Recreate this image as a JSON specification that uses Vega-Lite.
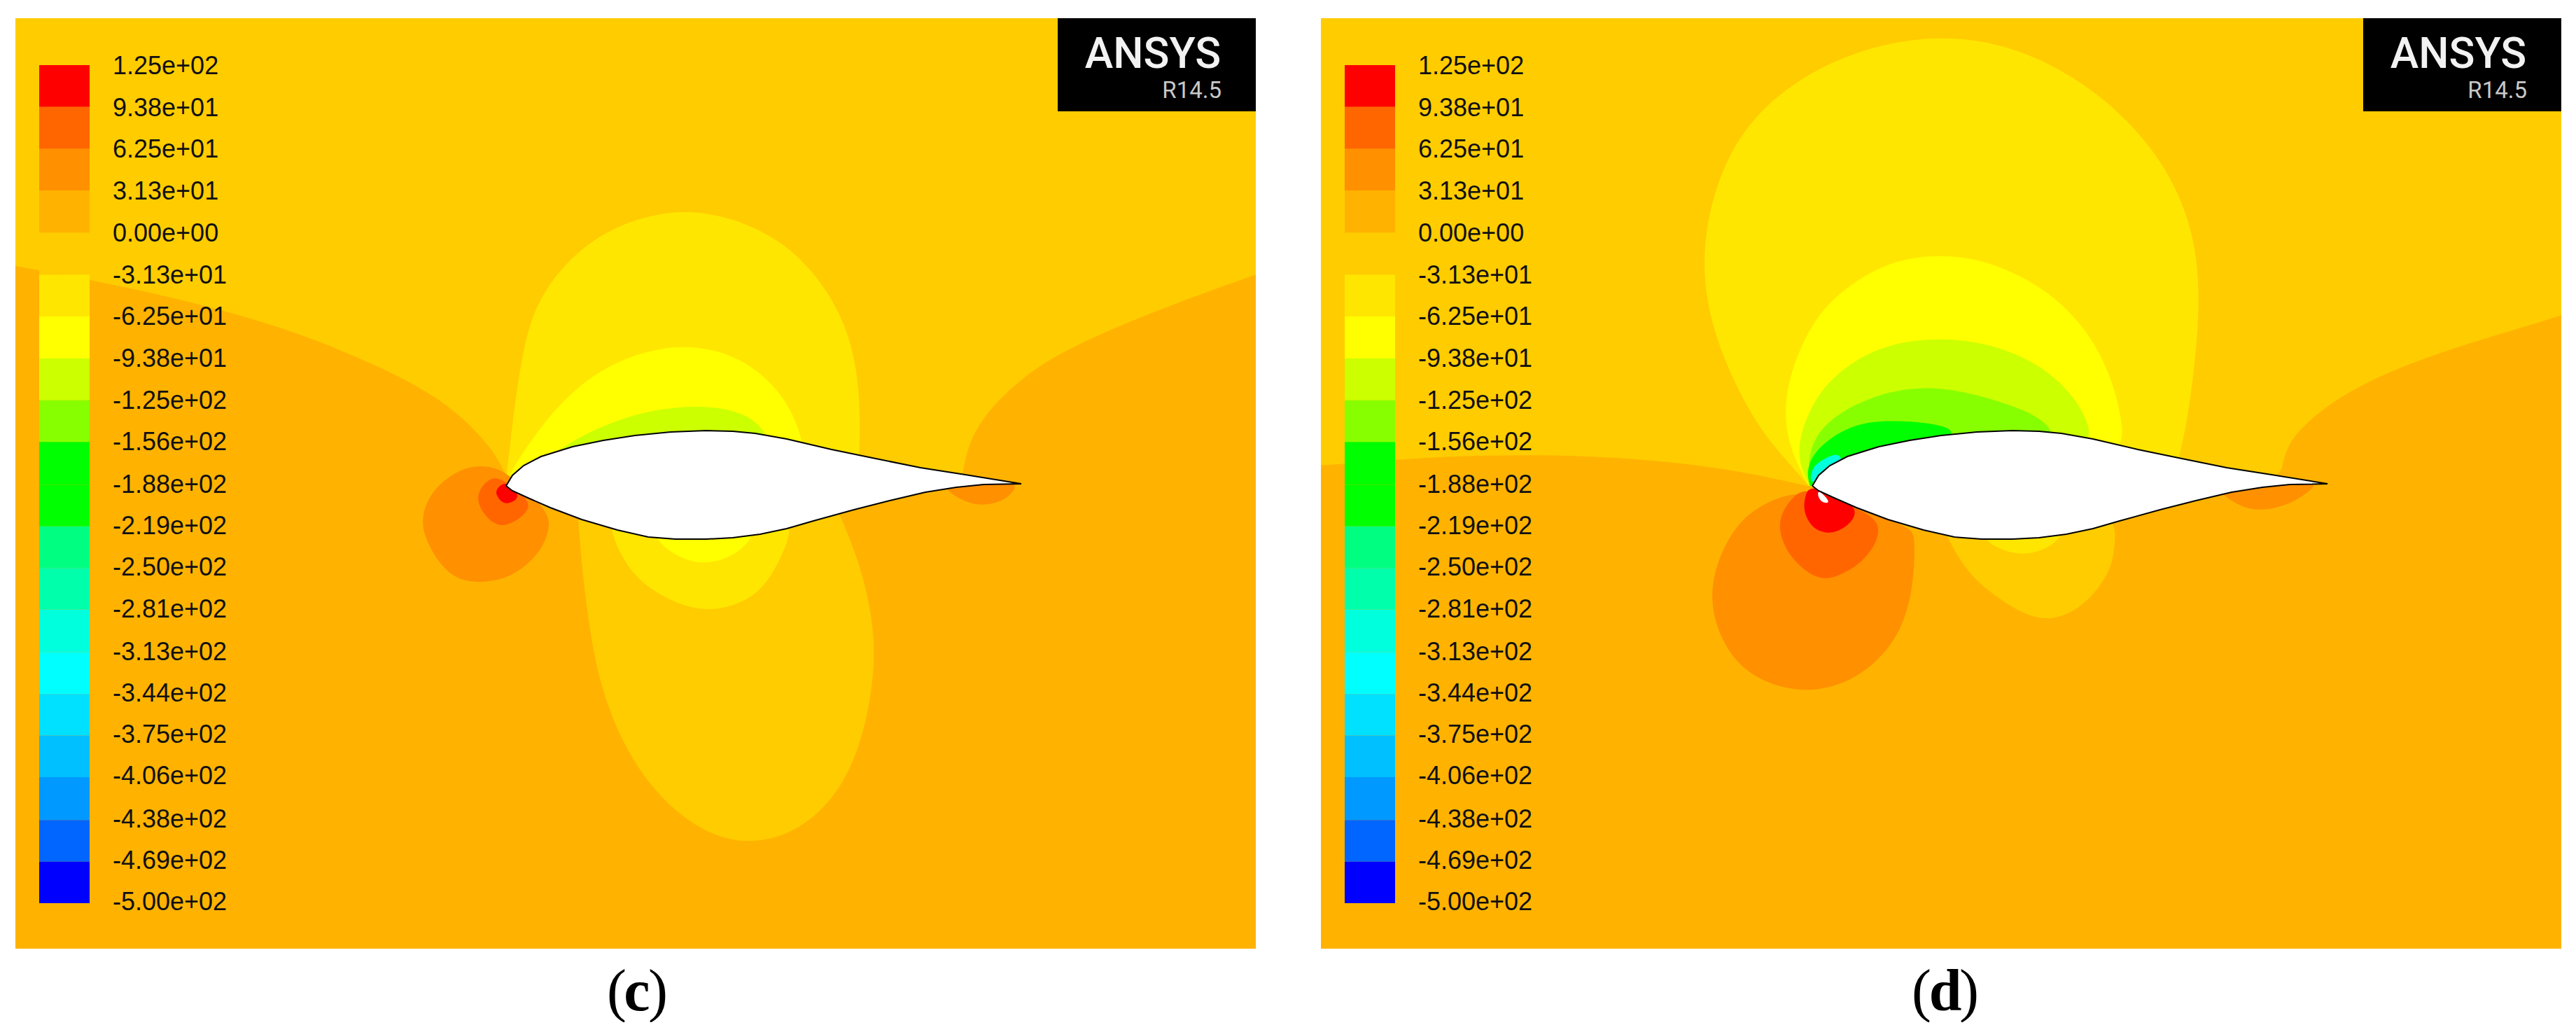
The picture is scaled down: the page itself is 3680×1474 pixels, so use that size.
{"$schema":"https://vega.github.io/schema/vega-lite/v6.json","padding":{"left":22,"top":26,"right":0,"bottom":0},"spacing":93,"bounds":"flush","background":"white","config":{"view":{"fill":"#FFCC00","stroke":null}},
"datasets":{
"airfoil":[{"x":723,"y":694},{"x":732,"y":679},{"x":748,"y":665},{"x":773,"y":652},{"x":818,"y":638},{"x":862,"y":629},{"x":907,"y":622},{"x":958,"y":617},{"x":1009,"y":615},{"x":1047,"y":616},{"x":1079,"y":619},{"x":1124,"y":627},{"x":1188,"y":642},{"x":1251,"y":655},{"x":1315,"y":668},{"x":1379,"y":678},{"x":1459,"y":691},{"x":1405,"y":692},{"x":1366,"y":696},{"x":1322,"y":703},{"x":1271,"y":715},{"x":1220,"y":728},{"x":1162,"y":744},{"x":1124,"y":755},{"x":1086,"y":763},{"x":1047,"y":768},{"x":1009,"y":770},{"x":965,"y":770},{"x":926,"y":767},{"x":882,"y":757},{"x":831,"y":742},{"x":786,"y":725},{"x":754,"y":711},{"x":732,"y":701},{"x":723,"y":694}],
"bands":[{"band":1,"hi":125,"lo":93.8},{"band":2,"hi":93.8,"lo":62.5},{"band":3,"hi":62.5,"lo":31.3},{"band":4,"hi":31.3,"lo":0},{"band":5,"hi":0,"lo":-31.3},{"band":6,"hi":-31.3,"lo":-62.5},{"band":7,"hi":-62.5,"lo":-93.8},{"band":8,"hi":-93.8,"lo":-125},{"band":9,"hi":-125,"lo":-156},{"band":10,"hi":-156,"lo":-188},{"band":11,"hi":-188,"lo":-219},{"band":12,"hi":-219,"lo":-250},{"band":13,"hi":-250,"lo":-281},{"band":14,"hi":-281,"lo":-313},{"band":15,"hi":-313,"lo":-344},{"band":16,"hi":-344,"lo":-375},{"band":17,"hi":-375,"lo":-406},{"band":18,"hi":-406,"lo":-438},{"band":19,"hi":-438,"lo":-469},{"band":20,"hi":-469,"lo":-500}],
"ticks":[{"v":125,"label":"1.25e+02"},{"v":93.8,"label":"9.38e+01"},{"v":62.5,"label":"6.25e+01"},{"v":31.3,"label":"3.13e+01"},{"v":0,"label":"0.00e+00"},{"v":-31.3,"label":"-3.13e+01"},{"v":-62.5,"label":"-6.25e+01"},{"v":-93.8,"label":"-9.38e+01"},{"v":-125,"label":"-1.25e+02"},{"v":-156,"label":"-1.56e+02"},{"v":-188,"label":"-1.88e+02"},{"v":-219,"label":"-2.19e+02"},{"v":-250,"label":"-2.50e+02"},{"v":-281,"label":"-2.81e+02"},{"v":-313,"label":"-3.13e+02"},{"v":-344,"label":"-3.44e+02"},{"v":-375,"label":"-3.75e+02"},{"v":-406,"label":"-4.06e+02"},{"v":-438,"label":"-4.38e+02"},{"v":-469,"label":"-4.69e+02"},{"v":-500,"label":"-5.00e+02"}],
"shapes_c":[
{"shape":"A","band":4,"x":-200,"y":340},{"shape":"A","band":4,"x":22,"y":380},{"shape":"A","band":4,"x":133,"y":400},{"shape":"A","band":4,"x":270,"y":430},{"shape":"A","band":4,"x":400,"y":466},{"shape":"A","band":4,"x":500,"y":505},{"shape":"A","band":4,"x":580,"y":542},{"shape":"A","band":4,"x":640,"y":578},{"shape":"A","band":4,"x":685,"y":620},{"shape":"A","band":4,"x":712,"y":655},{"shape":"A","band":4,"x":724,"y":682},{"shape":"A","band":4,"x":724,"y":682},{"shape":"A","band":4,"x":900,"y":700},{"shape":"A","band":4,"x":1200,"y":700},{"shape":"A","band":4,"x":1373,"y":692},{"shape":"A","band":4,"x":1376,"y":671},{"shape":"A","band":4,"x":1383,"y":636},{"shape":"A","band":4,"x":1405,"y":594},{"shape":"A","band":4,"x":1450,"y":548},{"shape":"A","band":4,"x":1510,"y":504},{"shape":"A","band":4,"x":1643,"y":446},{"shape":"A","band":4,"x":1794,"y":392},{"shape":"A","band":4,"x":2000,"y":320},{"shape":"A","band":4,"x":2000,"y":1500},{"shape":"A","band":4,"x":2000,"y":1500},{"shape":"A","band":4,"x":2000,"y":1500},{"shape":"A","band":4,"x":-200,"y":1500},{"shape":"A","band":4,"x":-200,"y":1500},{"shape":"A","band":4,"x":-200,"y":1500},
{"shape":"B","band":5,"x":1000,"y":700},{"shape":"B","band":5,"x":824,"y":710},{"shape":"B","band":5,"x":826,"y":745},{"shape":"B","band":5,"x":836,"y":861},{"shape":"B","band":5,"x":858,"y":995},{"shape":"B","band":5,"x":915,"y":1113},{"shape":"B","band":5,"x":994,"y":1186},{"shape":"B","band":5,"x":1071,"y":1209},{"shape":"B","band":5,"x":1152,"y":1184},{"shape":"B","band":5,"x":1220,"y":1106},{"shape":"B","band":5,"x":1251,"y":972},{"shape":"B","band":5,"x":1248,"y":883},{"shape":"B","band":5,"x":1225,"y":794},{"shape":"B","band":5,"x":1197,"y":730},{"shape":"B","band":5,"x":1185,"y":700},
{"shape":"C","band":6,"x":1000,"y":720},{"shape":"C","band":6,"x":868,"y":730},{"shape":"C","band":6,"x":875,"y":765},{"shape":"C","band":6,"x":888,"y":795},{"shape":"C","band":6,"x":912,"y":830},{"shape":"C","band":6,"x":960,"y":860},{"shape":"C","band":6,"x":1011,"y":875},{"shape":"C","band":6,"x":1067,"y":860},{"shape":"C","band":6,"x":1098,"y":830},{"shape":"C","band":6,"x":1116,"y":795},{"shape":"C","band":6,"x":1128,"y":767},{"shape":"C","band":6,"x":1130,"y":730},
{"shape":"D","band":7,"x":1000,"y":730},{"shape":"D","band":7,"x":930,"y":745},{"shape":"D","band":7,"x":937,"y":769},{"shape":"D","band":7,"x":953,"y":785},{"shape":"D","band":7,"x":975,"y":798},{"shape":"D","band":7,"x":1005,"y":806},{"shape":"D","band":7,"x":1039,"y":798},{"shape":"D","band":7,"x":1060,"y":784},{"shape":"D","band":7,"x":1075,"y":767},{"shape":"D","band":7,"x":1082,"y":745},
{"shape":"E","band":6,"x":723,"y":685},{"shape":"E","band":6,"x":723,"y":685},{"shape":"E","band":6,"x":729,"y":633},{"shape":"E","band":6,"x":738,"y":556},{"shape":"E","band":6,"x":754,"y":464},{"shape":"E","band":6,"x":780,"y":411},{"shape":"E","band":6,"x":818,"y":365},{"shape":"E","band":6,"x":869,"y":328},{"shape":"E","band":6,"x":930,"y":306},{"shape":"E","band":6,"x":990,"y":300},{"shape":"E","band":6,"x":1060,"y":315},{"shape":"E","band":6,"x":1124,"y":349},{"shape":"E","band":6,"x":1175,"y":403},{"shape":"E","band":6,"x":1213,"y":472},{"shape":"E","band":6,"x":1229,"y":556},{"shape":"E","band":6,"x":1228,"y":648},{"shape":"E","band":6,"x":1225,"y":680},{"shape":"E","band":6,"x":1100,"y":695},{"shape":"E","band":6,"x":800,"y":690},
{"shape":"F","band":7,"x":725,"y":685},{"shape":"F","band":7,"x":725,"y":685},{"shape":"F","band":7,"x":735,"y":665},{"shape":"F","band":7,"x":767,"y":617},{"shape":"F","band":7,"x":805,"y":571},{"shape":"F","band":7,"x":850,"y":533},{"shape":"F","band":7,"x":907,"y":505},{"shape":"F","band":7,"x":977,"y":491},{"shape":"F","band":7,"x":1047,"y":505},{"shape":"F","band":7,"x":1098,"y":541},{"shape":"F","band":7,"x":1130,"y":583},{"shape":"F","band":7,"x":1148,"y":633},{"shape":"F","band":7,"x":1150,"y":670},{"shape":"F","band":7,"x":1050,"y":690},{"shape":"F","band":7,"x":800,"y":690},
{"shape":"G","band":8,"x":770,"y":675},{"shape":"G","band":8,"x":785,"y":655},{"shape":"G","band":8,"x":799,"y":642},{"shape":"G","band":8,"x":837,"y":619},{"shape":"G","band":8,"x":882,"y":600},{"shape":"G","band":8,"x":933,"y":585},{"shape":"G","band":8,"x":996,"y":579},{"shape":"G","band":8,"x":1047,"y":585},{"shape":"G","band":8,"x":1079,"y":600},{"shape":"G","band":8,"x":1098,"y":625},{"shape":"G","band":8,"x":1105,"y":650},{"shape":"G","band":8,"x":1000,"y":680},
{"shape":"H","band":3,"x":722,"y":675},{"shape":"H","band":3,"x":755,"y":700},{"shape":"H","band":3,"x":780,"y":730},{"shape":"H","band":3,"x":787,"y":750},{"shape":"H","band":3,"x":775,"y":784},{"shape":"H","band":3,"x":750,"y":810},{"shape":"H","band":3,"x":722,"y":827},{"shape":"H","band":3,"x":683,"y":833},{"shape":"H","band":3,"x":650,"y":827},{"shape":"H","band":3,"x":625,"y":802},{"shape":"H","band":3,"x":608,"y":770},{"shape":"H","band":3,"x":602,"y":745},{"shape":"H","band":3,"x":609,"y":715},{"shape":"H","band":3,"x":630,"y":688},{"shape":"H","band":3,"x":665,"y":666},{"shape":"H","band":3,"x":700,"y":665},
{"shape":"I","band":2,"x":711,"y":681},{"shape":"I","band":2,"x":735,"y":696},{"shape":"I","band":2,"x":758,"y":718},{"shape":"I","band":2,"x":752,"y":732},{"shape":"I","band":2,"x":738,"y":744},{"shape":"I","band":2,"x":717,"y":753},{"shape":"I","band":2,"x":700,"y":744},{"shape":"I","band":2,"x":688,"y":730},{"shape":"I","band":2,"x":681,"y":712},{"shape":"I","band":2,"x":687,"y":696},{"shape":"I","band":2,"x":698,"y":685},
{"shape":"J","band":1,"x":722,"y":689},{"shape":"J","band":1,"x":733,"y":696},{"shape":"J","band":1,"x":742,"y":709},{"shape":"J","band":1,"x":733,"y":717},{"shape":"J","band":1,"x":722,"y":720},{"shape":"J","band":1,"x":713,"y":714},{"shape":"J","band":1,"x":707,"y":703},{"shape":"J","band":1,"x":713,"y":694},
{"shape":"K","band":3,"x":1345,"y":690},{"shape":"K","band":3,"x":1356,"y":703},{"shape":"K","band":3,"x":1378,"y":717},{"shape":"K","band":3,"x":1406,"y":723},{"shape":"K","band":3,"x":1434,"y":715},{"shape":"K","band":3,"x":1447,"y":703},{"shape":"K","band":3,"x":1455,"y":688},{"shape":"K","band":3,"x":1400,"y":680}
],
"shapes_d":[
{"shape":"A","band":4,"x":-200,"y":668},{"shape":"A","band":4,"x":21,"y":667},{"shape":"A","band":4,"x":134,"y":655},{"shape":"A","band":4,"x":260,"y":650},{"shape":"A","band":4,"x":394,"y":650},{"shape":"A","band":4,"x":529,"y":660},{"shape":"A","band":4,"x":631,"y":675},{"shape":"A","band":4,"x":720,"y":695},{"shape":"A","band":4,"x":720,"y":695},{"shape":"A","band":4,"x":900,"y":700},{"shape":"A","band":4,"x":1200,"y":700},{"shape":"A","band":4,"x":1390,"y":690},{"shape":"A","band":4,"x":1394,"y":665},{"shape":"A","band":4,"x":1405,"y":624},{"shape":"A","band":4,"x":1467,"y":571},{"shape":"A","band":4,"x":1546,"y":530},{"shape":"A","band":4,"x":1659,"y":490},{"shape":"A","band":4,"x":1793,"y":452},{"shape":"A","band":4,"x":2000,"y":380},{"shape":"A","band":4,"x":2000,"y":1500},{"shape":"A","band":4,"x":2000,"y":1500},{"shape":"A","band":4,"x":2000,"y":1500},{"shape":"A","band":4,"x":-200,"y":1500},{"shape":"A","band":4,"x":-200,"y":1500},{"shape":"A","band":4,"x":-200,"y":1500},
{"shape":"B","band":5,"x":1000,"y":700},{"shape":"B","band":5,"x":908,"y":740},{"shape":"B","band":5,"x":914,"y":765},{"shape":"B","band":5,"x":936,"y":803},{"shape":"B","band":5,"x":955,"y":827},{"shape":"B","band":5,"x":981,"y":849},{"shape":"B","band":5,"x":1020,"y":875},{"shape":"B","band":5,"x":1058,"y":887},{"shape":"B","band":5,"x":1095,"y":875},{"shape":"B","band":5,"x":1123,"y":852},{"shape":"B","band":5,"x":1142,"y":825},{"shape":"B","band":5,"x":1152,"y":803},{"shape":"B","band":5,"x":1156,"y":770},{"shape":"B","band":5,"x":1156,"y":730},
{"shape":"C","band":6,"x":1020,"y":720},{"shape":"C","band":6,"x":963,"y":750},{"shape":"C","band":6,"x":968,"y":772},{"shape":"C","band":6,"x":998,"y":788},{"shape":"C","band":6,"x":1029,"y":793},{"shape":"C","band":6,"x":1060,"y":783},{"shape":"C","band":6,"x":1079,"y":767},{"shape":"C","band":6,"x":1085,"y":745},
{"shape":"E","band":6,"x":719,"y":695},{"shape":"E","band":6,"x":719,"y":695},{"shape":"E","band":6,"x":688,"y":660},{"shape":"E","band":6,"x":642,"y":606},{"shape":"E","band":6,"x":597,"y":517},{"shape":"E","band":6,"x":569,"y":428},{"shape":"E","band":6,"x":567,"y":338},{"shape":"E","band":6,"x":592,"y":240},{"shape":"E","band":6,"x":642,"y":160},{"shape":"E","band":6,"x":722,"y":100},{"shape":"E","band":6,"x":812,"y":64},{"shape":"E","band":6,"x":908,"y":50},{"shape":"E","band":6,"x":1004,"y":64},{"shape":"E","band":6,"x":1094,"y":106},{"shape":"E","band":6,"x":1174,"y":169},{"shape":"E","band":6,"x":1236,"y":249},{"shape":"E","band":6,"x":1270,"y":338},{"shape":"E","band":6,"x":1277,"y":428},{"shape":"E","band":6,"x":1270,"y":517},{"shape":"E","band":6,"x":1258,"y":606},{"shape":"E","band":6,"x":1247,"y":651},{"shape":"E","band":6,"x":1240,"y":685},{"shape":"E","band":6,"x":1100,"y":695},{"shape":"E","band":6,"x":800,"y":695},
{"shape":"F","band":7,"x":719,"y":695},{"shape":"F","band":7,"x":719,"y":695},{"shape":"F","band":7,"x":699,"y":660},{"shape":"F","band":7,"x":682,"y":606},{"shape":"F","band":7,"x":688,"y":539},{"shape":"F","band":7,"x":722,"y":459},{"shape":"F","band":7,"x":767,"y":412},{"shape":"F","band":7,"x":834,"y":372},{"shape":"F","band":7,"x":908,"y":362},{"shape":"F","band":7,"x":981,"y":374},{"shape":"F","band":7,"x":1060,"y":414},{"shape":"F","band":7,"x":1117,"y":472},{"shape":"F","band":7,"x":1151,"y":539},{"shape":"F","band":7,"x":1167,"y":606},{"shape":"F","band":7,"x":1167,"y":650},{"shape":"F","band":7,"x":1050,"y":690},{"shape":"F","band":7,"x":800,"y":695},
{"shape":"G","band":8,"x":720,"y":695},{"shape":"G","band":8,"x":720,"y":695},{"shape":"G","band":8,"x":702,"y":660},{"shape":"G","band":8,"x":706,"y":615},{"shape":"G","band":8,"x":733,"y":557},{"shape":"G","band":8,"x":778,"y":517},{"shape":"G","band":8,"x":834,"y":490},{"shape":"G","band":8,"x":908,"y":482},{"shape":"G","band":8,"x":981,"y":491},{"shape":"G","band":8,"x":1049,"y":521},{"shape":"G","band":8,"x":1094,"y":562},{"shape":"G","band":8,"x":1117,"y":602},{"shape":"G","band":8,"x":1125,"y":640},{"shape":"G","band":8,"x":1000,"y":680},{"shape":"G","band":8,"x":800,"y":690},
{"shape":"H","band":9,"x":720,"y":695},{"shape":"H","band":9,"x":720,"y":695},{"shape":"H","band":9,"x":716,"y":653},{"shape":"H","band":9,"x":732,"y":613},{"shape":"H","band":9,"x":776,"y":580},{"shape":"H","band":9,"x":834,"y":558},{"shape":"H","band":9,"x":891,"y":552},{"shape":"H","band":9,"x":949,"y":561},{"shape":"H","band":9,"x":1012,"y":580},{"shape":"H","band":9,"x":1057,"y":600},{"shape":"H","band":9,"x":1080,"y":640},{"shape":"H","band":9,"x":950,"y":670},{"shape":"H","band":9,"x":800,"y":680},
{"shape":"I","band":10,"x":720,"y":695},{"shape":"I","band":10,"x":720,"y":695},{"shape":"I","band":10,"x":715,"y":677},{"shape":"I","band":10,"x":721,"y":653},{"shape":"I","band":10,"x":744,"y":628},{"shape":"I","band":10,"x":783,"y":606},{"shape":"I","band":10,"x":827,"y":600},{"shape":"I","band":10,"x":891,"y":603},{"shape":"I","band":10,"x":945,"y":618},{"shape":"I","band":10,"x":850,"y":660},{"shape":"I","band":10,"x":760,"y":680},
{"shape":"J","band":14,"x":721,"y":692},{"shape":"J","band":14,"x":720,"y":680},{"shape":"J","band":14,"x":725,"y":665},{"shape":"J","band":14,"x":740,"y":655},{"shape":"J","band":14,"x":760,"y":646},{"shape":"J","band":14,"x":768,"y":660},{"shape":"J","band":14,"x":750,"y":680},
{"shape":"K","band":3,"x":722,"y":696},{"shape":"K","band":3,"x":812,"y":736},{"shape":"K","band":3,"x":864,"y":754},{"shape":"K","band":3,"x":870,"y":767},{"shape":"K","band":3,"x":868,"y":839},{"shape":"K","band":3,"x":848,"y":912},{"shape":"K","band":3,"x":789,"y":972},{"shape":"K","band":3,"x":710,"y":993},{"shape":"K","band":3,"x":631,"y":967},{"shape":"K","band":3,"x":590,"y":914},{"shape":"K","band":3,"x":572,"y":839},{"shape":"K","band":3,"x":607,"y":754},{"shape":"K","band":3,"x":654,"y":716},
{"shape":"L","band":2,"x":714,"y":696},{"shape":"L","band":2,"x":760,"y":716},{"shape":"L","band":2,"x":822,"y":740},{"shape":"L","band":2,"x":816,"y":776},{"shape":"L","band":2,"x":790,"y":807},{"shape":"L","band":2,"x":765,"y":820},{"shape":"L","band":2,"x":744,"y":828},{"shape":"L","band":2,"x":722,"y":822},{"shape":"L","band":2,"x":705,"y":808},{"shape":"L","band":2,"x":687,"y":789},{"shape":"L","band":2,"x":674,"y":756},{"shape":"L","band":2,"x":680,"y":730},{"shape":"L","band":2,"x":695,"y":710},
{"shape":"M","band":1,"x":720,"y":695},{"shape":"M","band":1,"x":745,"y":701},{"shape":"M","band":1,"x":762,"y":708},{"shape":"M","band":1,"x":789,"y":727},{"shape":"M","band":1,"x":778,"y":748},{"shape":"M","band":1,"x":760,"y":759},{"shape":"M","band":1,"x":744,"y":762},{"shape":"M","band":1,"x":728,"y":757},{"shape":"M","band":1,"x":717,"y":745},{"shape":"M","band":1,"x":710,"y":727},{"shape":"M","band":1,"x":713,"y":706},
{"shape":"N","band":0,"x":730,"y":700},{"shape":"N","band":0,"x":738,"y":705},{"shape":"N","band":0,"x":749,"y":718},{"shape":"N","band":0,"x":740,"y":719},{"shape":"N","band":0,"x":732,"y":713},
{"shape":"O","band":3,"x":1295,"y":690},{"shape":"O","band":3,"x":1310,"y":708},{"shape":"O","band":3,"x":1337,"y":725},{"shape":"O","band":3,"x":1365,"y":730},{"shape":"O","band":3,"x":1405,"y":721},{"shape":"O","band":3,"x":1436,"y":700},{"shape":"O","band":3,"x":1445,"y":688},{"shape":"O","band":3,"x":1400,"y":680}
],
"caption_c":[{"t":"(","x":881},{"t":")","x":940}],
"caption_d":[{"t":"(","x":879},{"t":")","x":947}]
},
"hconcat":[
{"width":1772,"height":1329,"resolve":{"scale":{"y":"independent"}},"layer":[
{"data":{"name":"shapes_c"},"mark":{"type":"line","interpolate":"basis-closed","strokeWidth":0,"clip":true},"encoding":{"x":{"field":"x","type":"quantitative","axis":null,"scale":{"domain":[22,1794]}},"y":{"field":"y","type":"quantitative","axis":null,"scale":{"domain":[1355,26]}},"detail":{"field":"shape"},"order":{"value":null},"fill":{"field":"band","type":"ordinal","legend":null,"scale":{"domain":[0,1,2,3,4,5,6,7,8,9,10,11,12,13,14,15,16,17,18,19,20],"range":["#FFFFFF","#FF0000","#FF6600","#FF9000","#FFB300","#FFCC00","#FFE600","#FFFF00","#CCFF00","#88FF00","#00FF00","#00FF00","#00FF80","#00FFAA","#00FFDD","#00FFFF","#00E0FF","#00C0FF","#0099FF","#0066FF","#0000FF"]}}}},
{"data":{"name":"airfoil"},"mark":{"type":"line","fill":"white","stroke":"black","strokeWidth":2,"clip":true},"encoding":{"x":{"field":"x","type":"quantitative","axis":null,"scale":{"domain":[22,1794]}},"y":{"field":"y","type":"quantitative","axis":null,"scale":{"domain":[1355,26]}},"order":{"value":null}}},
{"data":{"name":"bands"},"mark":{"type":"rect"},"encoding":{"x":{"datum":56,"type":"quantitative","axis":null,"scale":{"domain":[22,1794]}},"x2":{"datum":128},"y":{"field":"hi","type":"quantitative","axis":null,"scale":{"domain":[125,-500],"range":[67,1264]}},"y2":{"field":"lo"},"fill":{"field":"band","type":"ordinal","legend":null,"scale":{"domain":[0,1,2,3,4,5,6,7,8,9,10,11,12,13,14,15,16,17,18,19,20],"range":["#FFFFFF","#FF0000","#FF6600","#FF9000","#FFB300","#FFCC00","#FFE600","#FFFF00","#CCFF00","#88FF00","#00FF00","#00FF00","#00FF80","#00FFAA","#00FFDD","#00FFFF","#00E0FF","#00C0FF","#0099FF","#0066FF","#0000FF"]}}}},
{"data":{"name":"ticks"},"mark":{"type":"text","align":"left","baseline":"middle","font":"Liberation Sans","fontSize":36,"fill":"#111111"},"encoding":{"x":{"datum":161,"type":"quantitative","axis":null,"scale":{"domain":[22,1794]}},"y":{"field":"v","type":"quantitative","axis":null,"scale":{"domain":[125,-500],"range":[69,1263]}},"text":{"field":"label"}}},
{"data":{"values":[{"logo":"ANSYS"}]},"mark":{"type":"rect","fill":"black"},"encoding":{"x":{"datum":1511,"type":"quantitative","axis":null,"scale":{"domain":[22,1794]}},"x2":{"datum":1794},"y":{"datum":26,"type":"quantitative","axis":null,"scale":{"domain":[1355,26]}},"y2":{"datum":159}}},
{"data":{"values":[{"t":"ANSYS"}]},"mark":{"type":"text","align":"center","baseline":"alphabetic","font":"Roboto","fontWeight":500,"fontSize":61,"fill":"#F2F2F2"},"encoding":{"x":{"datum":1647,"type":"quantitative","axis":null,"scale":{"domain":[22,1794]}},"y":{"datum":97,"type":"quantitative","axis":null,"scale":{"domain":[1355,26]}},"text":{"field":"t"}}},
{"data":{"values":[{"t":"R14.5"}]},"mark":{"type":"text","align":"right","baseline":"alphabetic","font":"Roboto","fontSize":33,"fill":"#C8C8C8"},"encoding":{"x":{"datum":1745,"type":"quantitative","axis":null,"scale":{"domain":[22,1794]}},"y":{"datum":140,"type":"quantitative","axis":null,"scale":{"domain":[1355,26]}},"text":{"field":"t"}}},
{"data":{"name":"caption_c"},"mark":{"type":"text","align":"center","baseline":"alphabetic","font":"Liberation Serif","fontSize":84,"fill":"black"},"encoding":{"x":{"field":"x","type":"quantitative","axis":null,"scale":{"domain":[22,1794]}},"y":{"datum":1443,"type":"quantitative","axis":null,"scale":{"domain":[1355,26]}},"text":{"field":"t"}}},
{"data":{"values":[{"t":"c"}]},"mark":{"type":"text","align":"center","baseline":"alphabetic","font":"Liberation Serif","fontWeight":"bold","fontSize":84,"fill":"black"},"encoding":{"x":{"datum":910,"type":"quantitative","axis":null,"scale":{"domain":[22,1794]}},"y":{"datum":1443,"type":"quantitative","axis":null,"scale":{"domain":[1355,26]}},"text":{"field":"t"}}}
]},
{"width":1772,"height":1329,"resolve":{"scale":{"y":"independent"}},"layer":[
{"data":{"name":"shapes_d"},"mark":{"type":"line","interpolate":"basis-closed","strokeWidth":0,"clip":true},"encoding":{"x":{"field":"x","type":"quantitative","axis":null,"scale":{"domain":[21,1793]}},"y":{"field":"y","type":"quantitative","axis":null,"scale":{"domain":[1355,26]}},"detail":{"field":"shape"},"order":{"value":null},"fill":{"field":"band","type":"ordinal","legend":null,"scale":{"domain":[0,1,2,3,4,5,6,7,8,9,10,11,12,13,14,15,16,17,18,19,20],"range":["#FFFFFF","#FF0000","#FF6600","#FF9000","#FFB300","#FFCC00","#FFE600","#FFFF00","#CCFF00","#88FF00","#00FF00","#00FF00","#00FF80","#00FFAA","#00FFDD","#00FFFF","#00E0FF","#00C0FF","#0099FF","#0066FF","#0000FF"]}}}},
{"data":{"name":"airfoil"},"mark":{"type":"line","fill":"white","stroke":"black","strokeWidth":2,"clip":true},"encoding":{"x":{"field":"x","type":"quantitative","axis":null,"scale":{"domain":[21,1793]}},"y":{"field":"y","type":"quantitative","axis":null,"scale":{"domain":[1355,26]}},"order":{"value":null}}},
{"data":{"name":"bands"},"mark":{"type":"rect"},"encoding":{"x":{"datum":55,"type":"quantitative","axis":null,"scale":{"domain":[21,1793]}},"x2":{"datum":127},"y":{"field":"hi","type":"quantitative","axis":null,"scale":{"domain":[125,-500],"range":[67,1264]}},"y2":{"field":"lo"},"fill":{"field":"band","type":"ordinal","legend":null,"scale":{"domain":[0,1,2,3,4,5,6,7,8,9,10,11,12,13,14,15,16,17,18,19,20],"range":["#FFFFFF","#FF0000","#FF6600","#FF9000","#FFB300","#FFCC00","#FFE600","#FFFF00","#CCFF00","#88FF00","#00FF00","#00FF00","#00FF80","#00FFAA","#00FFDD","#00FFFF","#00E0FF","#00C0FF","#0099FF","#0066FF","#0000FF"]}}}},
{"data":{"name":"ticks"},"mark":{"type":"text","align":"left","baseline":"middle","font":"Liberation Sans","fontSize":36,"fill":"#111111"},"encoding":{"x":{"datum":160,"type":"quantitative","axis":null,"scale":{"domain":[21,1793]}},"y":{"field":"v","type":"quantitative","axis":null,"scale":{"domain":[125,-500],"range":[69,1263]}},"text":{"field":"label"}}},
{"data":{"values":[{"logo":"ANSYS"}]},"mark":{"type":"rect","fill":"black"},"encoding":{"x":{"datum":1510,"type":"quantitative","axis":null,"scale":{"domain":[21,1793]}},"x2":{"datum":1793},"y":{"datum":26,"type":"quantitative","axis":null,"scale":{"domain":[1355,26]}},"y2":{"datum":159}}},
{"data":{"values":[{"t":"ANSYS"}]},"mark":{"type":"text","align":"center","baseline":"alphabetic","font":"Roboto","fontWeight":500,"fontSize":61,"fill":"#F2F2F2"},"encoding":{"x":{"datum":1646,"type":"quantitative","axis":null,"scale":{"domain":[21,1793]}},"y":{"datum":97,"type":"quantitative","axis":null,"scale":{"domain":[1355,26]}},"text":{"field":"t"}}},
{"data":{"values":[{"t":"R14.5"}]},"mark":{"type":"text","align":"right","baseline":"alphabetic","font":"Roboto","fontSize":33,"fill":"#C8C8C8"},"encoding":{"x":{"datum":1744,"type":"quantitative","axis":null,"scale":{"domain":[21,1793]}},"y":{"datum":140,"type":"quantitative","axis":null,"scale":{"domain":[1355,26]}},"text":{"field":"t"}}},
{"data":{"name":"caption_d"},"mark":{"type":"text","align":"center","baseline":"alphabetic","font":"Liberation Serif","fontSize":84,"fill":"black"},"encoding":{"x":{"field":"x","type":"quantitative","axis":null,"scale":{"domain":[21,1793]}},"y":{"datum":1443,"type":"quantitative","axis":null,"scale":{"domain":[1355,26]}},"text":{"field":"t"}}},
{"data":{"values":[{"t":"d"}]},"mark":{"type":"text","align":"center","baseline":"alphabetic","font":"Liberation Serif","fontWeight":"bold","fontSize":84,"fill":"black"},"encoding":{"x":{"datum":913,"type":"quantitative","axis":null,"scale":{"domain":[21,1793]}},"y":{"datum":1443,"type":"quantitative","axis":null,"scale":{"domain":[1355,26]}},"text":{"field":"t"}}}
]}
]}
